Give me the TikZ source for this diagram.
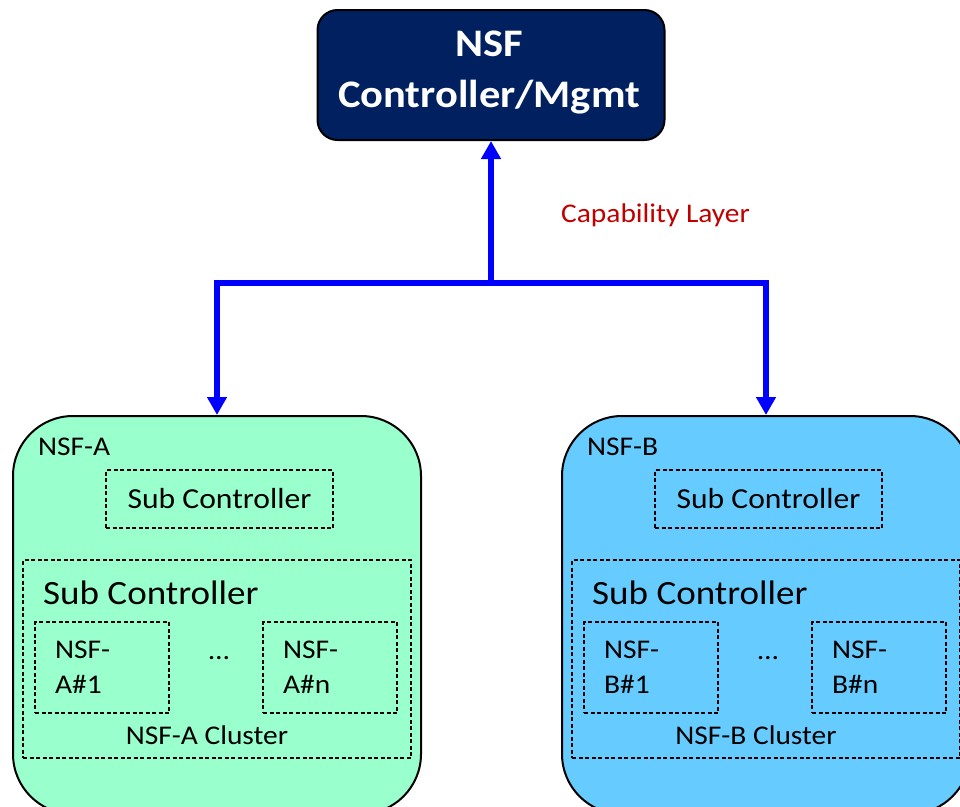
\documentclass[tikz,border=0pt]{standalone}
\usepackage{fontspec}
\setmainfont[FakeStretch=1.09]{Carlito}
\usetikzlibrary{arrows.meta}
\definecolor{navy}{HTML}{002060}
\definecolor{mint}{HTML}{99FFCC}
\definecolor{sky}{HTML}{66CCFF}
\definecolor{capred}{HTML}{C00000}
\definecolor{linkblue}{HTML}{0000FF}
\tikzset{
  topbox/.style={draw=black, line width=2pt, fill=navy, rounded corners=20pt,
    text=white, align=center, inner sep=0pt},
  nsfzone/.style={draw=black, line width=2pt, rounded corners=60pt, inner sep=0pt},
  dashbox/.style={draw=black, line width=1.4pt, dash pattern=on 4pt off 2.5pt, inner sep=0pt},
  link/.style={draw=linkblue, line width=6pt},
  tip/.style={-{Triangle[width=19pt,length=18pt]}},
  txt/.style={inner sep=0pt, font=\fontsize{#1}{#1}\selectfont},
}
\begin{document}
\begin{tikzpicture}[x=1pt,y=-1pt]
\clip (0,0) rectangle (960,806);
\fill[white] (0,0) rectangle (960,806);

% controller at the top
\node[topbox, minimum width=347pt, minimum height=130pt] (ctl) at (491,75) {};
\node[txt=39, font=\fontsize{39}{51}\selectfont\bfseries, text=white, align=center]
  (ctltext) at (489,73) {NSF\\Controller/Mgmt};

% the two NSF zones with their sub controllers and clusters
\foreach \s/\dx/\col in {A/0/mint, B/549/sky}{
  \begin{scope}[xshift=\dx pt]
    \node[nsfzone, fill=\col, minimum width=408pt, minimum height=398pt, anchor=north west]
      (dom\s) at (12,415) {};
    \node[txt=27, anchor=west] (lab\s) at (38,447) {NSF-\s};
    \node[dashbox, minimum width=227pt, minimum height=58pt] (sub\s) at (219.5,499)
      {\fontsize{29}{29}\selectfont Sub Controller};
    \node[dashbox, minimum width=388pt, minimum height=198pt] (clu\s) at (217,659) {};
    \node[txt=34, anchor=west] (csub\s) at (43,593) {Sub Controller};
    \node[dashbox, minimum width=134pt, minimum height=91pt] (one\s) at (102,667.5) {};
    \node[dashbox, minimum width=134pt, minimum height=91pt] (nth\s) at (330,667.5) {};
    \node[txt=27, anchor=west, align=left, font=\fontsize{27}{35}\selectfont]
      (onet\s) at (55,667.5) {NSF-\\\s\#1};
    \node[txt=27, anchor=west, align=left, font=\fontsize{27}{35}\selectfont]
      (ntht\s) at (283,667.5) {NSF-\\\s\#n};
    \node[txt=27, anchor=base] (dots\s) at (219,659) {\dots};
    \node[txt=27] (clut\s) at (207,735) {NSF-\s{} Cluster};
  \end{scope}
}

% capability layer connectors
\coordinate (hub) at (491,283);
\draw[link, tip] (hub) -- (ctl.south);
\draw[link, {Triangle[width=19pt,length=18pt]}-{Triangle[width=19pt,length=18pt]}]
  (domA.north) |- (hub) -| (domB.north);
\node[txt=27, text=capred, anchor=west] (cap) at (561,215) {Capability Layer};
\end{tikzpicture}
\end{document}
